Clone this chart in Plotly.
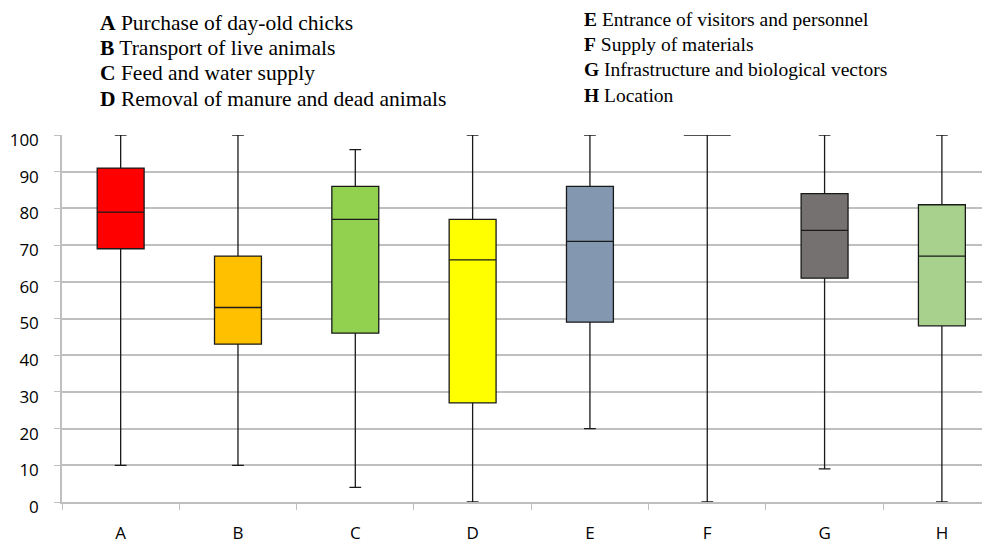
import plotly.graph_objects as go

categories = ["A", "B", "C", "D", "E", "F", "G", "H"]
minimum = [10, 10, 4, 0, 20, 0, 9, 0]
q1 = [69, 43, 46, 27, 49, 100, 61, 48]
median = [79, 53, 77, 66, 71, 100, 74, 67]
q3 = [91, 67, 86, 77, 86, 100, 84, 81]
maximum = [100, 100, 96, 100, 100, 100, 100, 100]
colors = ["#FF0000", "#FFC000", "#92D050", "#FFFF00", "#8497B0", "rgba(0,0,0,0)", "#767171", "#A9D18E"]

legend_left = [("A", "Purchase of day-old chicks"), ("B", "Transport of live animals"),
               ("C", "Feed and water supply"), ("D", "Removal of manure and dead animals")]
legend_right = [("E", "Entrance of visitors and personnel"), ("F", "Supply of materials"),
                ("G", "Infrastructure and biological vectors"), ("H", "Location")]

OFF = 8  # default page body margin
W, H = 990 - OFF, 546 - OFF
L, R, T, B = 62 - OFF, 0, 135 - OFF, 546 - 502

fig = go.Figure()
for i, c in enumerate(categories):
    fig.add_trace(go.Box(
        x=[c], q1=[q1[i]], median=[median[i]], q3=[q3[i]],
        lowerfence=[minimum[i]], upperfence=[maximum[i]],
        fillcolor=colors[i], line=dict(color="#1a1a1a", width=1.3),
        width=0.4, whiskerwidth=0.25, showlegend=False, boxpoints=False,
        hoverinfo="skip",
    ))

def px_x(p):
    return (p - OFF - L) / (W - L - R)

def px_y(p):
    return (H - B - (p - OFF)) / (H - T - B)

annotations = []
for k, (letter, text) in enumerate(legend_left):
    annotations.append(dict(x=px_x(98), y=px_y(23 + 25.2 * k), xref="paper", yref="paper",
                            xanchor="left", yanchor="middle", showarrow=False,
                            text=f"<b>{letter}</b> {text}",
                            font=dict(family="Liberation Serif", size=21.5, color="#000")))
for k, (letter, text) in enumerate(legend_right):
    annotations.append(dict(x=px_x(582), y=px_y(19 + 25.4 * k), xref="paper", yref="paper",
                            xanchor="left", yanchor="middle", showarrow=False,
                            text=f"<b>{letter}</b> {text}",
                            font=dict(family="Liberation Serif", size=19.5, color="#000")))

fig.update_layout(
    width=W, height=H,
    margin=dict(l=L, r=R, t=T, b=B, autoexpand=False),
    plot_bgcolor="white", paper_bgcolor="white",
    annotations=annotations,
    xaxis=dict(type="category", range=[-0.5, 7.41], showgrid=False,
               showline=True, linecolor="#BFBFBF", linewidth=1.5,
               ticks="outside", tickson="boundaries", ticklen=6, tickcolor="#BFBFBF",
               tickfont=dict(family="Open Sans", size=17, color="#000"),
               ticklabelstandoff=15, automargin=False, zeroline=False),
    yaxis=dict(range=[0, 100], tickvals=list(range(0, 101, 10)),
               showgrid=True, gridcolor="#BFBFBF", gridwidth=1.5,
               showline=True, linecolor="#BFBFBF", linewidth=1.5,
               ticks="outside", ticklen=6, tickcolor="#BFBFBF",
               tickfont=dict(family="Open Sans", size=17, color="#000"),
               ticklabelstandoff=12, ticklabelshift=5, automargin=False, zeroline=False),
)

fig.write_html("out.html")
